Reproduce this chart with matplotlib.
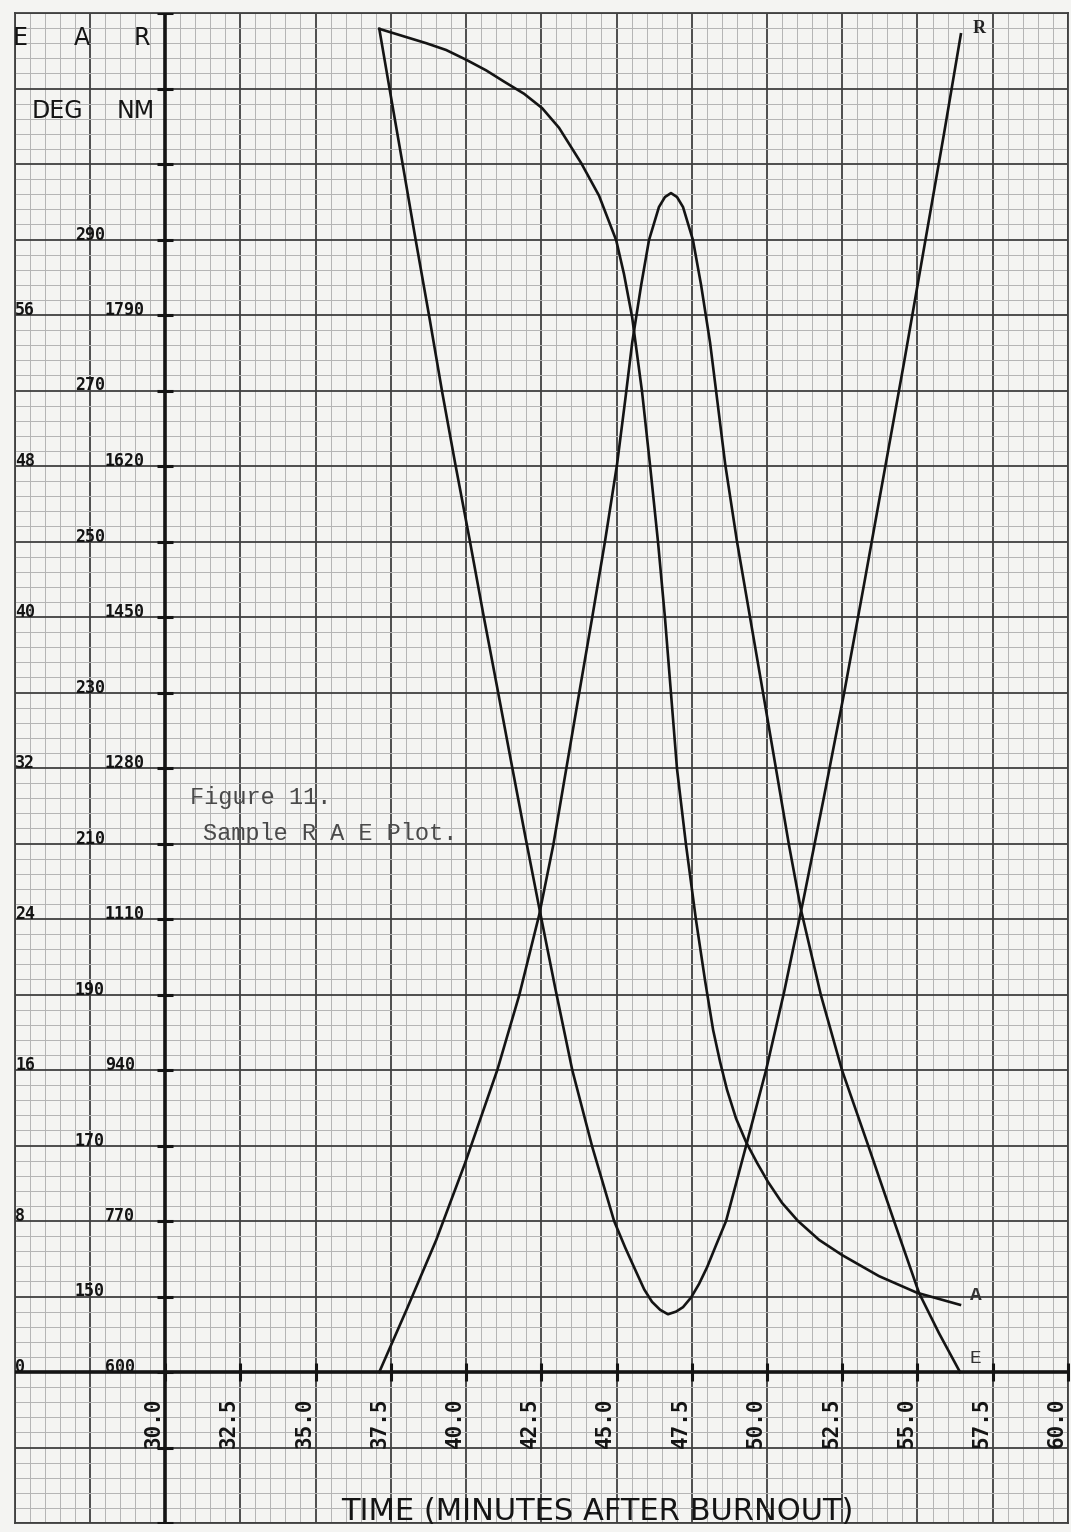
import matplotlib
matplotlib.use('Agg')
import matplotlib.pyplot as plt
from matplotlib.ticker import MultipleLocator

plt.rcParams['font.family'] = ['DejaVu Sans']

# ---------------- data ----------------
time_E = [37.12, 38.02, 39.01, 39.97, 41.04, 41.77, 42.43, 42.90, 43.33, 43.76,
          44.19, 44.62, 45.02, 45.29, 45.52, 45.82, 46.08, 46.41, 46.61, 46.81,
          47.01, 47.21, 47.54, 47.81, 48.11, 48.61, 49.00, 49.44, 49.87, 50.30,
          50.73, 51.13, 51.79, 52.49, 53.39, 54.22, 55.05, 55.71, 56.41]
elev_deg = [0.0, 3.28, 6.99, 11.07, 16.00, 19.97, 24.21, 27.92, 31.95, 35.97,
            39.95, 44.03, 48.11, 51.50, 54.52, 57.59, 59.97, 61.72, 62.25, 62.46,
            62.25, 61.72, 59.97, 57.59, 54.52, 48.11, 44.03, 39.95, 35.97, 31.95,
            27.92, 24.48, 19.97, 16.00, 11.87, 8.00, 4.19, 2.07, 0.0]

time_A = [37.12, 38.68, 39.34, 40.01, 40.67, 41.27, 41.93, 42.53, 43.09, 43.83,
          44.42, 44.99, 45.25, 45.52, 45.85, 46.12, 46.38, 46.61, 46.81, 47.01,
          47.31, 47.64, 47.94, 48.21, 48.44, 48.67, 48.97, 49.30, 49.67, 50.03,
          50.50, 51.03, 51.73, 52.49, 53.72, 54.98, 56.41]
azim_deg = [317.9, 316.0, 315.1, 313.8, 312.4, 310.9, 309.3, 307.4, 304.8, 300.1,
            295.8, 289.9, 285.4, 279.7, 269.8, 259.9, 249.9, 239.9, 229.9, 219.9,
            209.8, 199.9, 191.9, 185.3, 181.1, 177.4, 173.6, 170.5, 167.7, 165.2,
            162.4, 160.0, 157.5, 155.5, 152.7, 150.5, 148.9]

time_R = [37.12, 37.52, 37.92, 38.31, 38.78, 39.21, 39.64, 40.11, 40.57, 41.04,
          41.50, 41.97, 42.43, 42.96, 43.53, 44.19, 44.92, 45.29, 45.65, 45.92,
          46.18, 46.45, 46.71, 46.98, 47.21, 47.48, 47.74, 48.01, 48.31, 48.64,
          49.30, 49.97, 50.57, 51.23, 51.89, 52.56, 53.22, 53.88, 54.55, 55.21,
          55.88, 56.44]
range_nm = [2112, 2033, 1955, 1878, 1788, 1703, 1623, 1539, 1454, 1370,
            1287, 1203, 1123, 1033, 940, 854, 770, 740, 713, 693,
            679, 670, 665, 668, 673, 684, 699, 718, 743, 770,
            854, 940, 1028, 1135, 1247, 1364, 1486, 1610, 1736, 1864,
            1994, 2106]

x_ticks = [30.0, 32.5, 35.0, 37.5, 40.0, 42.5, 45.0, 47.5, 50.0, 52.5, 55.0, 57.5, 60.0]
x_tick_labels = ['30.0', '32.5', '35.0', '37.5', '40.0', '42.5', '45.0',
                 '47.5', '50.0', '52.5', '55.0', '57.5', '60.0']
E_ticks = [0, 8, 16, 24, 32, 40, 48, 56]
A_ticks = [150, 170, 190, 210, 230, 250, 270, 290]
R_ticks = [600, 770, 940, 1110, 1280, 1450, 1620, 1790]
axis_cross_y = [-8, -4, 0, 4, 8, 12, 16, 20, 24, 28, 32, 36, 40, 44, 48, 52, 56, 60, 64, 68, 72]

# ---------------- figure ----------------
W, H = 1071, 1532
paper = '#f4f4f2'
ink = '#141414'
fig = plt.figure(figsize=(W / 100, H / 100), dpi=100, facecolor=paper)
left, right = 14.5 / W, 1068 / W
bottom, top = 1 - 1523 / H, 1 - 13 / H
ax = fig.add_axes([left, bottom, right - left, top - bottom])
ax.set_facecolor(paper)
ax.set_xlim(25, 60)
ax.set_ylim(-8, 72)
ax.xaxis.set_major_locator(MultipleLocator(2.5))
ax.xaxis.set_minor_locator(MultipleLocator(0.5))
ax.yaxis.set_major_locator(MultipleLocator(4))
ax.yaxis.set_minor_locator(MultipleLocator(0.8))
ax.set_axisbelow(True)
ax.grid(which='minor', color='#b4b4b4', lw=0.7)
ax.grid(which='major', color='#404040', lw=1.3)
ax.tick_params(which='both', length=0, labelbottom=False, labelleft=False)
for s in ax.spines.values():
    s.set_color('#404040')
    s.set_linewidth(1.3)

# main axis lines with cross ticks
ax.axvline(30, color=ink, lw=2.6, zorder=3)
ax.axhline(0, color=ink, lw=2.6, zorder=3)
ax.plot(x_ticks, [0] * len(x_ticks), ls='none', marker='|', ms=13, mew=2.2,
        color=ink, zorder=3, clip_on=False)
ax.plot([30] * len(axis_cross_y), axis_cross_y, ls='none', marker='_', ms=11,
        mew=2.2, color=ink, zorder=3)

axA = ax.twinx()
axA.set_ylim(120, 320)
axA.set_axis_off()
axR = ax.twinx()
axR.set_ylim(430, 2130)
axR.set_axis_off()

# curves
ax.plot(time_E, elev_deg, color=ink, lw=1.9, solid_joinstyle='round', zorder=4)
axA.plot(time_A, azim_deg, color=ink, lw=1.9, solid_joinstyle='round', zorder=4)
axR.plot(time_R, range_nm, color=ink, lw=1.9, solid_joinstyle='round', zorder=4)

# plotter-style labels
mono = ['DejaVu Sans Mono']
for v in E_ticks:
    ax.text(25.02, v, str(v), ha='left', va='baseline', fontsize=12,
            fontweight='bold', family=mono, color=ink)
for v in A_ticks:
    axA.text(27.5, v, str(v), ha='center', va='baseline', fontsize=12,
             fontweight='bold', family=mono, color=ink)
for v in R_ticks:
    axR.text(28.0, v, str(v), ha='left', va='baseline', fontsize=12,
             fontweight='bold', family=mono, color=ink)

for xv, lab in zip(x_ticks, x_tick_labels):
    ax.text(xv - 0.04, -4.03, lab, rotation=90, ha='right', va='bottom',
            fontsize=15, fontweight='bold', family=mono, color=ink)

ax.text(25.18, 70.7, 'E', ha='center', va='center', fontsize=17, color=ink)
ax.text(27.24, 70.7, 'A', ha='center', va='center', fontsize=17, color=ink)
ax.text(29.24, 70.7, 'R', ha='center', va='center', fontsize=17, color=ink)
ax.text(26.41, 66.8, 'DEG', ha='center', va='center', fontsize=17, color=ink)
ax.text(29.04, 66.8, 'NM', ha='center', va='center', fontsize=17, color=ink)

ax.text(44.37, -7.85, 'TIME (MINUTES AFTER BURNOUT)', ha='center', va='baseline',
        fontsize=22, color=ink)

# typed caption and curve letters
tw = ['Liberation Mono', 'DejaVu Sans Mono']
ax.text(30.83, 30.1, 'Figure 11.', ha='left', va='baseline', fontsize=17,
        family=tw, color='#4a4a4a')
ax.text(31.26, 28.2, 'Sample R A E Plot.', ha='left', va='baseline', fontsize=17,
        family=tw, color='#4a4a4a')
ax.text(56.84, 71.2, 'R', ha='left', va='center', fontsize=13, fontweight='bold',
        family=['Liberation Serif', 'DejaVu Serif'], color='#222222')
ax.text(56.74, 4.03, 'A', ha='left', va='center', fontsize=14, fontweight='bold',
        family=tw, color='#333333')
ax.text(56.74, 0.74, 'E', ha='left', va='center', fontsize=14,
        family=tw, color='#333333')

fig.savefig('out.png', dpi=100, facecolor=fig.get_facecolor())
